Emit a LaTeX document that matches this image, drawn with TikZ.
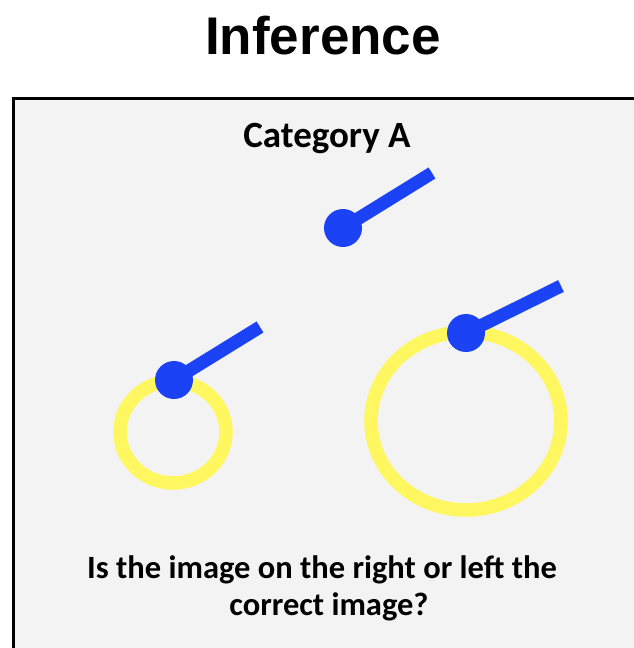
\documentclass[tikz,border=0pt]{standalone}
\usepackage{fontspec}
\setmainfont{Carlito}
\newfontfamily\titlefont{Liberation Sans}
\definecolor{ringyellow}{RGB}{255,247,95}
\definecolor{pinblue}{RGB}{28,66,245}
\definecolor{panelgray}{RGB}{243,243,243}
\begin{document}
\begin{tikzpicture}[x=1pt,y=-1pt,
  ring/.style={draw=ringyellow, line width=13.5pt},
  stick/.style={draw=pinblue, line width=13pt},
  dot/.style={circle, fill=pinblue, minimum size=38pt, inner sep=0pt},
  caption/.style={font=\bfseries\fontsize{32.5}{37}\selectfont, anchor=base, inner sep=0pt}]
\useasboundingbox (0,0) rectangle (633,648);
\fill[white] (0,0) rectangle (633,648);
\draw[line width=3pt, fill=panelgray] (13,98) rectangle (660,680);
\node[font=\titlefont\bfseries\fontsize{53}{60}\selectfont, anchor=base, inner sep=0pt] (title) at (323,54) {Inference};
\node[font=\bfseries\fontsize{37}{44}\selectfont, anchor=base, inner sep=0pt] (cat) at (327,147) {Category A};
% top pin
\coordinate (c1) at (343,228);
\coordinate (t1) at (432,173);
\draw[stick] (c1) -- (t1);
\node[dot] (d1) at (c1) {};
% left ring and pin
\draw[ring] (173,432) ellipse [x radius=53, y radius=51];
\coordinate (c2) at (174,380);
\coordinate (t2) at (260,327);
\draw[stick] (c2) -- (t2);
\node[dot] (d2) at (c2) {};
% right ring and pin
\draw[ring] (466,421) ellipse [x radius=95, y radius=89];
\coordinate (c3) at (466,333);
\coordinate (t3) at (561,286);
\draw[stick] (c3) -- (t3);
\node[dot] (d3) at (c3) {};
% question
\node[caption] (q1) at (322,578) {Is the image on the right or left the};
\node[caption] (q2) at (329,615) {correct image?};
\end{tikzpicture}
\end{document}
